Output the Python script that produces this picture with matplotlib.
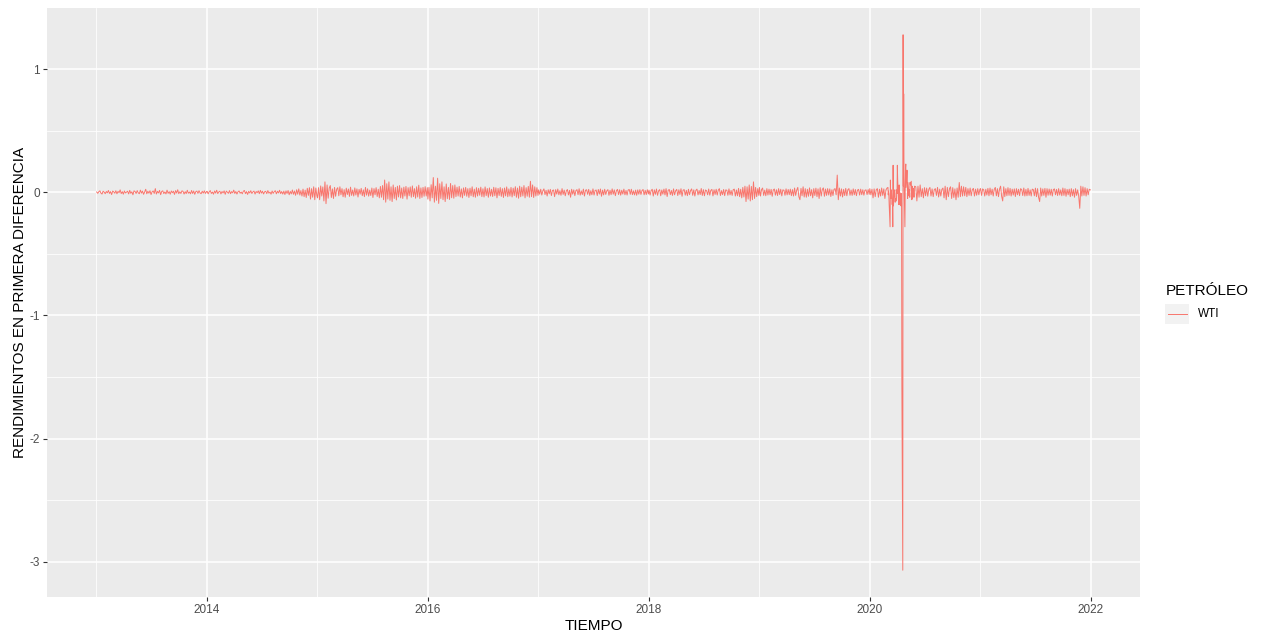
import pandas as pd
import matplotlib
matplotlib.use("Agg")
import matplotlib.pyplot as plt
import matplotlib.dates as mdates
from matplotlib.lines import Line2D
from matplotlib.patches import Rectangle

plt.rcParams['font.family'] = ['Liberation Sans', 'DejaVu Sans']
plt.rcParams['axes.unicode_minus'] = False

# rendimientos WTI en milésimas (dos obs. por semana, diario en mar-may 2020)
ret_2013 = [3, -8, 5, 12, -6, -14, 9, 2, -11, 7, -4, 15, -9, 6, -18, 10, 4, -7, 13, -12, 8, -3, 20,
            -10, 6, -15, 11, -5, 2, 9, -13, 16, -8, 5, -20, 12, 7, -9, 14, -4, -11, 18, -6, 10, -16,
            3, 25, -12, 9, -7, 13, -18, 5, 11, -9, 30, -14, 8, -5, 16, -19, 7, 12, -10, 4, -13, 18,
            -8, 6, -15, 11, -3, 9, -17, 14, -6, 21, -11, 5, -9, 12, 8, -14, 6, -10, 17, -7, 3, -12,
            15, -9, 11, -16, 6, 10, -8, 13, -5, -11, 9, -6, 12, -9, 5]
ret_2014 = [8, -12, 5, 14, -9, 3, -15, 11, -6, 17, -10, 4, 9, -13, 7, -5, 12, -16, 10, 2, -8, 14,
            -11, 6, -4, 18, -9, 7, -14, 5, 11, -7, 3, -12, 9, 15, -10, 6, -17, 8, -5, 13, -9, 4, 10,
            -14, 7, -3, 12, -11, 16, -6, 9, -13, 5, 8, -10, 14, -7, 3, -15, 11, -8, 6, 13, -12, 9,
            -5, 17, -10, 7, -14, 10, -18, 12, -9, 15, -20, 8, -13, 19, -16, 11, -24, 21, -15, 28,
            -22, 14, -30, 26, -35, 18, -42, 33, -25, 38, -55, 30, -40, 45, -60, 35, -28]
ret_2015 = [-45, 38, -60, 52, -30, 44, -70, 85, -92, 60, -48, 35, 55, -42, 28, -50, 40,
            -32, 25, 38, -28, 45, -20, 30, -36, 22, -40, 34, -18, 27, -33, 42, -25, 19, -30, 36,
            -22, 28, -38, 24, -15, 32, -27, 20, -35, 40, -23, 29, -31, 18, -26, 35, -42, 30, -20,
            38, -34, 25, -45, 48, -40, 55, -60, 100, -80, 70, -55, 85, -65, 45, -75, 60, -50, 40,
            -62, 50, -38, 55, -45, 35, -50, 42, -30, 48, -55, 38, -28, 44, -40, 52, -35, 30, -48,
            45, -38, 58, -50, 36, -42, 40, -32, 46, -30, 38]
ret_2016 = [-55, 40, -70, 62, -45, 120, -80, 50, -65, 115, -90, 70, -50, 85, -60, 45, -75, 68, -52,
            40, -58, 72, -44, 55, -48, 60, -35, 42, -30, 48, -38, 28, -45, 36, -25, 40, -32, 30,
            -42, 34, -28, 45, -36, 26, -40, 38, -30, 33, -24, 42, -35, 29, -38, 44, -27, 31, -40,
            36, -30, 25, -34, 41, -28, 37, -45, 32, -26, 39, -33, 30, -42, 35, -29, 44, -36, 28,
            -31, 40, -38, 34, -27, 46, -40, 35, -48, 50, -36, 42, -30, 55, -45, 38, -32, 48, -40,
            90, -35, 60, -42, 45, -30, 38, -25]
ret_2017 = [20, -15, 25, -22, 12, 28, -18, 16, -30, 21, -12, 24, -26, 15, 19, -35, 22, -14, 27,
            -20, 13, -24, 30, -17, 18, -28, 11, 23, -21, 16, -40, 25, -15, 20, -27, 14, 22, -19,
            29, -23, 12, -18, 26, -30, 17, 21, -16, 24, -25, 13, -20, 28, -22, 15, 19, -26, 23,
            -14, 27, -32, 18, -21, 25, -17, 12, 22, -24, 16, -19, 28, -15, 20, -27, 13, 24, -18,
            21, -23, 17, -14, 26, -20, 15, -22, 19, 23, -16, 25, -19, 12, -21, 18, -24, 20, -15,
            22, -17, 14, 23, -20, 16, -18, 21, -13]
ret_2018 = [18, -22, 14, 25, -30, 20, -16, 27, -24, 12, 22, -28, 19, -15, 26, -21, 30, -34, 17, 23,
            -19, 15, -25, 28, -20, 13, 24, -26, 21, -17, 29, -32, 18, 22, -23, 16, -27, 25, -19,
            14, 28, -24, 20, -30, 17, 26, -21, 15, -18, 31, -25, 22, -28, 19, 13, -20, 27, -23, 16,
            24, -29, 21, -17, 25, -22, 18, 30, -26, 14, -19, 23, -27, 20, 17, -24, 28, -21, 15,
            -25, 22, 26, -30, 19, -28, 32, -35, 25, -45, 40, -38, 50, -75, 45, -55, 60, -70, 48,
            -60, 85, -50, 40, -35, 30, -25]
ret_2019 = [40, -30, 22, 35, -25, 18, -28, 30, -22, 26, -20, 24, -32, 19, 27, -23, 21, -26, 30,
            -18, 25, -29, 20, 17, -24, 28, -21, 23, -19, 26, -27, 22, -30, 35, -25, 18, 40, -35,
            -60, 32, -28, 45, -38, 30, -40, 25, -32, 36, -28, 22, -45, 30, -26, 34, -35, 28, -50,
            38, -30, 24, 36, -32, 27, -25, 30, -22, 28, -34, 21, -26, 25, 30, -20, 140, -60, 35,
            -30, 28, -38, 24, -26, 32, -28, 22, 30, -24, 19, -25, 28, -20, 23, -27, 18, 24, -22,
            26, -19, 21, -23, 17, 20, -18, 22, -16]
ret_2020_ene_feb = [30, -20, 25, -45, 28, -35, 22, 30, -40, 25, -30, 35, -25, 28, -50, 20, 35]
ret_2020_mar = [40, -20, 10, -20, -100, -280, 100, -40, -50, 20, -100,
                -60, -280, 220, -110, -20, 20, 20, -80, -50, -70, 20]
ret_2020_abr = [-10, 220, 110, -80, -100, 60, -100, 0, -20, -110, -10,
                -90, -1570, -3070, 1280, 50, 800, 120, -280, 30, 200, 230]
ret_2020_may = [40, 180, 100, -50, 80, 50, -30, 20, -40, 80, 60,
                90, 20, -60, 50, -50, 30, 20, -40, 30, 50]
ret_2020_jun_dic = [45, -70, 50, -40, 60, -35, 30, -45, 38, -28, 35, -32, 25, 40, -30, 28, -35, 22,
                    30, -25, 40, -38, 26, -30, 24, 35, -45, 50, -60, 40, -35, 30, 45, -50, 38, -42,
                    28, -60, 35, -40, 80, -35, 50, -30, 45, -28, 40, -35, 30, -25, 35, -28, 22, 32,
                    -30, 26, -24, 30, -20, 25]
ret_2021 = [30, -25, 28, 20, -30, 25, -22, 32, -28, 35, -20, 26, -30, 24, 40, -28, 30, -35, 26, 50,
            -32, -70, 45, -35, 30, -28, 38, -25, 32, -30, 26, -22, 28, -34, 30, -20, 25, -27, 30,
            22, -26, 35, -30, 24, -28, 32, -25, 20, -30, 26, 22, -28, 34, -35, 30, -40, -75, 35,
            -30, 28, -25, 32, -40, 30, -24, 27, -23, 25, -30, 22, 28, -20, 24, -26, 30, -22, 20,
            -28, 35, -25, 30, -32, 24, -20, 26, -35, 30, -28, 22, -40, 30, -25, 20, -30, -130, 50,
            -30, 45, -25, 38, -30, 30, -20, 25, 20]

anual = {2013: ret_2013, 2014: ret_2014, 2015: ret_2015, 2016: ret_2016,
         2017: ret_2017, 2018: ret_2018, 2019: ret_2019, 2021: ret_2021}

partes = []
for y, vals in anual.items():
    idx = pd.date_range(f'{y}-01-02', f'{y}-12-31', periods=len(vals))
    partes.append(pd.Series(vals, index=idx))
partes.append(pd.Series(ret_2020_ene_feb,
                        index=pd.date_range('2020-01-02', '2020-02-28', periods=len(ret_2020_ene_feb))))
covid = ret_2020_mar + ret_2020_abr + ret_2020_may
partes.append(pd.Series(covid, index=pd.bdate_range('2020-03-02', periods=len(covid))))
partes.append(pd.Series(ret_2020_jun_dic,
                        index=pd.date_range('2020-06-02', '2020-12-31', periods=len(ret_2020_jun_dic))))
wti = pd.concat(partes).sort_index() / 1000

fig = plt.figure(figsize=(12.64, 6.33), dpi=100)
ax = fig.add_axes([47 / 1264, 1 - 597 / 633, (1140 - 47) / 1264, (597 - 8) / 633])
ax.set_facecolor('#EBEBEB')
for s in ax.spines.values():
    s.set_visible(False)

ax.plot(wti.index, wti.values, color='#F8766D', linewidth=0.7)

# escalas con 5% de margen, como ggplot
x0, x1 = mdates.date2num(wti.index[0]), mdates.date2num(wti.index[-1])
pad = (x1 - x0) * 0.05
ax.set_xlim(x0 - pad, x1 + pad)
lo, hi = wti.min(), wti.max()
ax.set_ylim(lo - (hi - lo) * 0.05, hi + (hi - lo) * 0.05)

ax.xaxis.set_major_locator(mdates.YearLocator(2))
ax.xaxis.set_minor_locator(mdates.YearLocator(1))
ax.xaxis.set_major_formatter(mdates.DateFormatter('%Y'))
ax.set_yticks([1, 0, -1, -2, -3])
ax.set_yticks([0.5, -0.5, -1.5, -2.5], minor=True)
ax.grid(which='major', color='white', linewidth=1.1)
ax.grid(which='minor', color='white', linewidth=0.55)
ax.set_axisbelow(True)
ax.tick_params(which='major', length=3, width=0.8, color='#333333', labelcolor='#4D4D4D',
               labelsize=8.5, pad=2)
ax.tick_params(which='minor', length=0)

ax.set_xlabel('TIEMPO', fontsize=11, labelpad=2)
ax.set_ylabel('RENDIMIENTOS EN PRIMERA DIFERENCIA', fontsize=11, labelpad=2)

# leyenda
fig.text(1166 / 1264, 1 - 291 / 633, 'PETRÓLEO', fontsize=11, va='center', ha='left')
fig.add_artist(Rectangle((1165 / 1264, 1 - 324 / 633), 24 / 1264, 20 / 633,
                         transform=fig.transFigure, color='#F2F2F2', lw=0))
fig.add_artist(Line2D([1168 / 1264, 1187 / 1264], [1 - 314 / 633] * 2,
                      transform=fig.transFigure, color='#F8766D', linewidth=0.7))
fig.text(1198 / 1264, 1 - 314 / 633, 'WTI', fontsize=8.5, va='center', ha='left')

fig.savefig('out.png', dpi=100)
